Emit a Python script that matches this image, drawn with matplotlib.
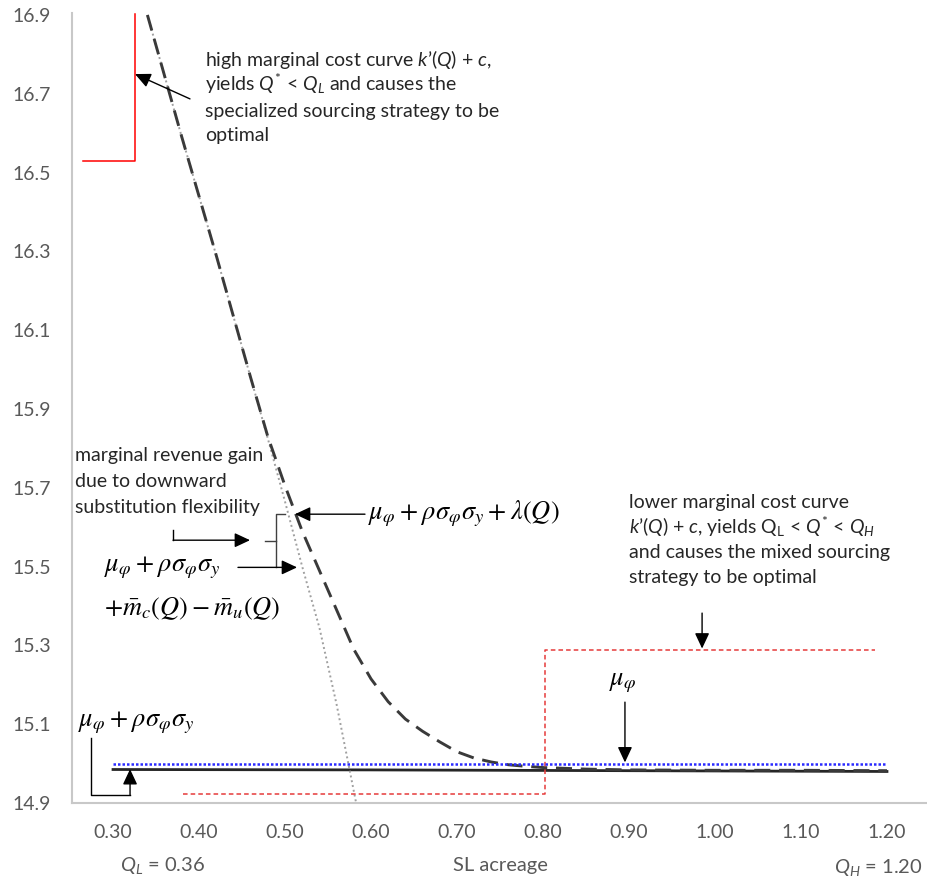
import matplotlib
matplotlib.use("Agg")
import matplotlib.pyplot as plt

# Data

sl_ticks = [0.30, 0.40, 0.50, 0.60, 0.70, 0.80, 0.90, 1.00, 1.10, 1.20]
y_ticks = [14.9, 15.1, 15.3, 15.5, 15.7, 15.9, 16.1, 16.3, 16.5, 16.7, 16.9]

# flat reference lines over the full SL range
flat_x = [0.30, 0.60, 0.90, 1.20]
mu_phi = [15.00, 15.00, 15.00, 15.00]
mu_rho = [14.985, 14.984, 14.982, 14.980]

# high marginal cost curve  mu + rho*sigma*sigma + lambda(Q)
lam_x = [0.34, 0.38, 0.42, 0.46, 0.48, 0.50, 0.52, 0.54, 0.56, 0.58, 0.60, 0.62,
         0.64, 0.66, 0.68, 0.70, 0.72, 0.74, 0.76, 0.78, 0.80, 0.85, 0.90, 1.00,
         1.10, 1.20]
lam_y = [16.90, 16.59, 16.29, 15.98, 15.83, 15.705, 15.59, 15.49, 15.39, 15.29, 15.215, 15.157,
         15.113, 15.082, 15.055, 15.030, 15.014, 15.004, 14.997, 14.993, 14.990, 14.986, 14.984, 14.983,
         14.983, 14.982]

# mu + rho*sigma*sigma + m_c(Q) - m_u(Q)
mcu_x = [0.34, 0.38, 0.42, 0.46, 0.48, 0.50, 0.52, 0.54, 0.56, 0.58, 0.59]
mcu_y = [16.90, 16.59, 16.29, 15.98, 15.825, 15.665, 15.50, 15.345, 15.15, 14.93, 14.82]

# marginal cost step curves
high_mc_x = [0.265, 0.326, 0.326]
high_mc_y = [16.53, 16.53, 16.903]
low_mc_x = [0.381, 0.802, 0.802, 1.186]
low_mc_y = [14.923, 14.923, 15.288, 15.288]

TXT = "#262626"
GREY = "#595959"

plt.rcParams["font.family"] = ["Lato", "DejaVu Sans"]
plt.rcParams["mathtext.fontset"] = "custom"
plt.rcParams["mathtext.rm"] = "Lato"
plt.rcParams["mathtext.it"] = "Lato:italic"

fig = plt.figure(figsize=(9.28, 8.86), dpi=100)
ax = fig.add_axes([72 / 928, 1 - 803 / 886, 1 - 72 / 928, 790 / 886])

ax.plot(flat_x, mu_rho, color="#262626", lw=2.0, zorder=2)
ax.plot(flat_x, mu_phi, color="#2a2aff", lw=1.8, ls=(0, (1, 0.8)), zorder=4)
ax.plot(mcu_x, mcu_y, color="#a0a0a0", lw=1.4, ls=(0, (1, 1.5)), zorder=3)
ax.plot(lam_x, lam_y, color="#3a3a3a", lw=2.1, ls=(0, (5.5, 3.0)), zorder=3)
ax.plot(high_mc_x, high_mc_y, color="#ff0000", lw=1.1, zorder=3)
ax.plot(low_mc_x, low_mc_y, color="#e63a3a", lw=1.1, ls=(0, (3, 2)), zorder=3)

ax.set_xlim(0.2523, 1.2477)
ax.set_ylim(14.9, 16.905)
ax.set_xticks(sl_ticks)
ax.set_xticklabels([f"{v:.2f}" for v in sl_ticks])
ax.set_yticks(y_ticks)
ax.set_yticklabels([f"{v:.1f}" for v in y_ticks])
ax.tick_params(length=0, labelsize=14, labelcolor=GREY)
ax.tick_params(axis="x", pad=15)
ax.tick_params(axis="y", pad=15)
for s in ["top", "right"]:
    ax.spines[s].set_visible(False)
for s in ["left", "bottom"]:
    ax.spines[s].set_color("#c8c8c8")
    ax.spines[s].set_linewidth(1.5)


def arrow(tail, tip):
    ax.annotate("", xy=tip, xytext=tail,
                arrowprops=dict(arrowstyle="-|>,head_length=0.47,head_width=0.22",
                                color="black", lw=1.0, shrinkA=0, shrinkB=0,
                                mutation_scale=20), zorder=6)


def block(x, ys, lines, size=14):
    for y, s in zip(ys, lines):
        ax.text(x, y, s, ha="left", va="baseline", fontsize=size, color=TXT)


def formula(x, y, s, ha="left"):
    ax.text(x, y, s, ha=ha, va="center", fontsize=19, color="black",
            math_fontfamily="stix")


# top-left note
block(0.407, [16.771, 16.707, 16.641, 16.581],
      [r"high marginal cost curve $k$’($Q$) + $c$,",
       r"yields $Q^{*}$ < $Q_{L}$ and causes the",
       "specialized sourcing strategy to be",
       "optimal"])
arrow((0.3895, 16.687), (0.3256, 16.750))

# right note
block(0.90, [15.648, 15.584, 15.521, 15.458],
      ["lower marginal cost curve",
       r"$k$’($Q$) + $c$, yields Q$_{\mathrm{L}}$ < $Q^{*}$ < $Q_{H}$",
       "and causes the mixed sourcing",
       "strategy to be optimal"])
arrow((0.985, 15.382), (0.985, 15.292))

# downward substitution gain
block(0.2558, [15.769, 15.701, 15.635],
      ["marginal revenue gain", "due to downward", "substitution flexibility"])
ax.plot([0.3698, 0.3698], [15.592, 15.567], color="black", lw=1.0)
arrow((0.3698, 15.567), (0.4593, 15.567))
ax.plot([0.500, 0.4895, 0.4895], [15.633, 15.633, 15.498], color="#404040", lw=1.0)
ax.plot([0.4767, 0.4895], [15.564, 15.564], color="#404040", lw=1.0)

formula(0.5965, 15.633, r"$\mu_{\varphi}\:+\:\rho\sigma_{\varphi}\sigma_{y}\:+\:\lambda(Q)$")
arrow((0.593, 15.633), (0.5116, 15.633))

formula(0.2895, 15.496, r"$\mu_{\varphi}\:+\:\rho\sigma_{\varphi}\sigma_{y}$")
formula(0.2895, 15.394, r"$+\bar{m}_{c}(Q) - \bar{m}_{u}(Q)$")
arrow((0.4453, 15.498), (0.514, 15.498))

# bottom-left label
formula(0.2593, 15.103, r"$\mu_{\varphi}\:+\:\rho\sigma_{\varphi}\sigma_{y}$")
ax.plot([0.2744, 0.2744, 0.3198], [15.065, 14.92, 14.92], color="black", lw=1.0)
arrow((0.3198, 14.92), (0.3198, 14.986))

# mu_phi label
formula(0.893, 15.207, r"$\mu_{\varphi}$", ha="center")
arrow((0.8953, 15.156), (0.8953, 15.003))

fig.text(120 / 928, 1 - 865 / 886, r"$Q_{L}$ = 0.36", va="center", fontsize=14.5, color=GREY)
fig.text(500 / 928, 1 - 865 / 886, "SL acreage", va="center", ha="center", fontsize=14.5, color=GREY)
fig.text(923 / 928, 1 - 868 / 886, r"$Q_{H}$ = 1.20", va="center", ha="right", fontsize=14.5, color=GREY)

fig.savefig("out.png", dpi=100)
